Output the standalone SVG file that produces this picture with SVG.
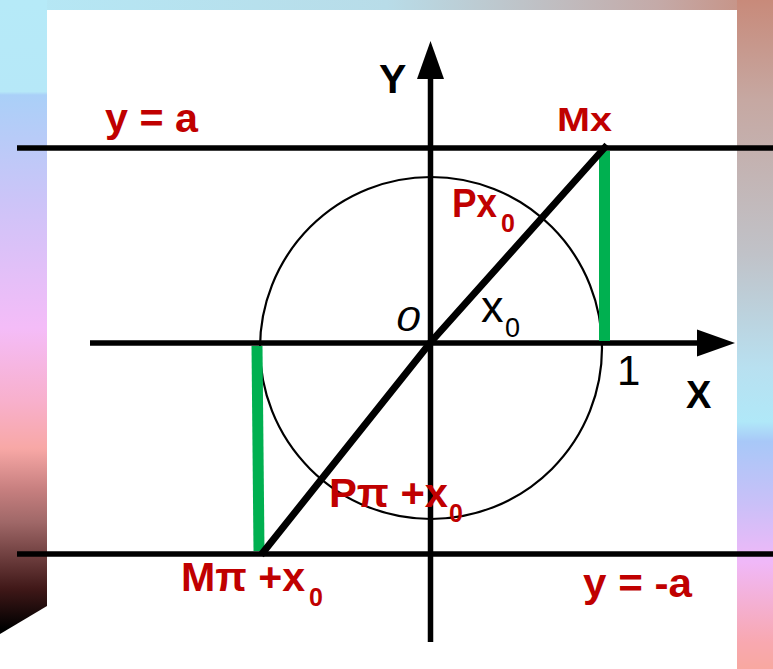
<svg xmlns="http://www.w3.org/2000/svg" width="773" height="669" viewBox="0 0 773 669">
<defs>
<linearGradient id="gTop" x1="0" y1="0" x2="1" y2="0">
<stop offset="0" stop-color="#b5e8f6"/>
<stop offset="0.5" stop-color="#b8dce8"/>
<stop offset="0.85" stop-color="#c4aaa8"/>
<stop offset="1" stop-color="#c88c7c"/>
</linearGradient>
<linearGradient id="gLeft" x1="0" y1="0" x2="0" y2="669" gradientUnits="userSpaceOnUse">
<stop offset="0" stop-color="#b6eaf8"/>
<stop offset="0.137" stop-color="#b6e8f8"/>
<stop offset="0.142" stop-color="#aad0f8"/>
<stop offset="0.3" stop-color="#ccc4f8"/>
<stop offset="0.49" stop-color="#f4bcf8"/>
<stop offset="0.6" stop-color="#f8b0cc"/>
<stop offset="0.67" stop-color="#f8a8a6"/>
<stop offset="0.73" stop-color="#c88080"/>
<stop offset="0.78" stop-color="#a06868"/>
<stop offset="0.88" stop-color="#401818"/>
<stop offset="0.94" stop-color="#000000"/>
<stop offset="1" stop-color="#000000"/>
</linearGradient>
<linearGradient id="gRight" x1="0" y1="0" x2="0" y2="669" gradientUnits="userSpaceOnUse">
<stop offset="0" stop-color="#c88a7a"/>
<stop offset="0.15" stop-color="#c6a8a2"/>
<stop offset="0.38" stop-color="#c0c2c8"/>
<stop offset="0.55" stop-color="#b8e0f0"/>
<stop offset="0.63" stop-color="#b0e8f8"/>
<stop offset="0.66" stop-color="#a8c8f8"/>
<stop offset="0.75" stop-color="#c8c0f8"/>
<stop offset="0.84" stop-color="#f0b8f8"/>
<stop offset="0.96" stop-color="#f8a8b0"/>
<stop offset="1" stop-color="#f8a8a0"/>
</linearGradient>
<style>
.ax{stroke:#000;stroke-width:5.5;fill:none}
.lim{stroke:#000;stroke-width:5.5;fill:none}
.grn{stroke:#00b050;stroke-width:11;fill:none}
.red{font-family:"Liberation Sans",Arial,sans-serif;font-weight:bold;fill:#c00000}
.blk{font-family:"Liberation Sans",Arial,sans-serif;fill:#000}
</style>
</defs>
<g id="background">
<rect x="0" y="0" width="773" height="669" fill="url(#gTop)"/>
<rect x="0" y="0" width="47" height="669" fill="url(#gLeft)"/>
<rect x="737" y="0" width="36" height="669" fill="url(#gRight)"/>
<polygon points="0,634 47,606 47,669 0,669" fill="#ffffff"/>
<rect x="47" y="10" width="690" height="659" fill="#ffffff"/>
</g>
<g id="connectors">
<line class="lim" x1="17" y1="148" x2="773" y2="148"/>
<line class="lim" x1="17" y1="554" x2="773" y2="554"/>
<line class="ax" x1="90" y1="343" x2="699" y2="343"/>
<polygon points="735,343 697,329.5 697,356.5" fill="#000"/>
<line class="ax" x1="430.5" y1="78" x2="430.5" y2="642"/>
<polygon points="430.5,41 417,79 444,79" fill="#000"/>
<circle cx="431" cy="348" r="171" fill="none" stroke="#000" stroke-width="2.2"/>
<line class="grn" x1="604.5" y1="151" x2="604.5" y2="341"/>
<line class="grn" x1="257" y1="346" x2="259" y2="551"/>
<polyline points="261,555 430,343 607,145" fill="none" stroke="#000" stroke-width="7"/>
</g>
<g id="label-y-a"><text class="red" x="105" y="132" font-size="41" textLength="93" lengthAdjust="spacingAndGlyphs">y = a</text></g>
<g id="label-Mx"><text class="red" x="557" y="131" font-size="34" textLength="55" lengthAdjust="spacingAndGlyphs">Mx</text></g>
<g id="label-Px0"><text class="red" x="452" y="217" font-size="41" textLength="45" lengthAdjust="spacingAndGlyphs">Px</text><text class="red" x="501" y="232" font-size="25">0</text></g>
<g id="label-Ppi-x0"><text class="red" x="329" y="507" font-size="41" textLength="119" lengthAdjust="spacingAndGlyphs">Pπ +x</text><text class="red" x="449" y="522" font-size="25">0</text></g>
<g id="label-Mpi-x0"><text class="red" x="181" y="591" font-size="41" textLength="124" lengthAdjust="spacingAndGlyphs">Mπ +x</text><text class="red" x="309" y="606" font-size="25">0</text></g>
<g id="label-y-minus-a"><text class="red" x="583" y="597" font-size="41" textLength="109" lengthAdjust="spacingAndGlyphs">y = -a</text></g>
<g id="label-Y"><text class="blk" x="379" y="93" font-size="41" font-weight="bold">Y</text></g>
<g id="label-X"><text class="blk" x="686" y="408" font-size="38" font-weight="bold">X</text></g>
<g id="label-origin"><text class="blk" x="396" y="331" font-size="35" font-style="italic" textLength="24" lengthAdjust="spacingAndGlyphs">0</text></g>
<g id="label-x0"><text class="blk" x="481" y="322" font-size="45">x</text><text class="blk" x="505" y="337" font-size="27">0</text></g>
<g id="label-1"><text class="blk" x="617" y="385" font-size="42">1</text></g>
</svg>
